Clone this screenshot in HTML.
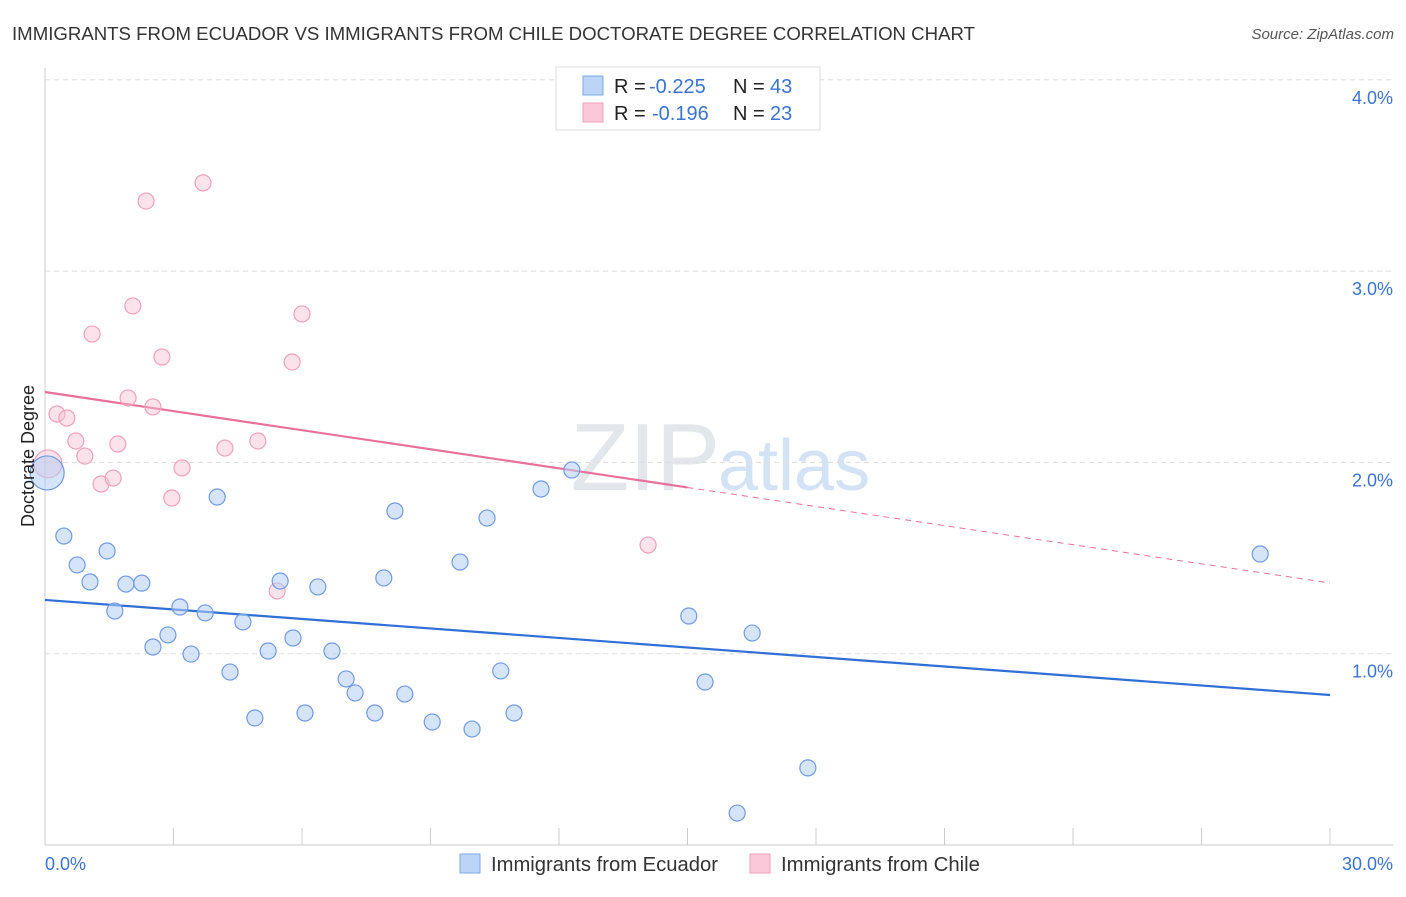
<!DOCTYPE html>
<html><head><meta charset="utf-8"><style>
body{margin:0;background:#fff;font-family:"Liberation Sans",sans-serif;}
svg text{font-family:"Liberation Sans",sans-serif;}
</style></head><body>
<svg id="chart" width="1406" height="892" viewBox="0 0 1406 892" xmlns="http://www.w3.org/2000/svg">
<text x="12" y="40" font-size="18" fill="#333" textLength="963" lengthAdjust="spacingAndGlyphs">IMMIGRANTS FROM ECUADOR VS IMMIGRANTS FROM CHILE DOCTORATE DEGREE CORRELATION CHART</text>
<text x="1394" y="39" font-size="15" fill="#555" font-style="italic" text-anchor="end">Source: ZipAtlas.com</text>
<text x="720" y="490" font-size="96" fill="#e3e6ea" font-family="Liberation Serif,serif" text-anchor="end">ZIP</text>
<text x="718" y="490" font-size="72" fill="#d3e2f4">atlas</text>
<g id="grid"></g>
<g id="axes"></g>
<g id="trend"></g>
<g id="points"></g>
<text transform="translate(34,456) rotate(-90)" font-size="18" fill="#222" text-anchor="middle">Doctorate Degree</text>
<text x="45" y="870" font-size="18" fill="#3b73d1">0.0%</text>
<text x="1393" y="870" font-size="18" fill="#3b73d1" text-anchor="end">30.0%</text>
<g>
<rect x="556" y="67" width="264" height="63" fill="#fff" stroke="#ddd"/>
<rect x="583" y="76" width="20" height="19" fill="#bcd4f5" stroke="#7fa8e4"/>
<rect x="583" y="103" width="20" height="19" fill="#fac8d8" stroke="#eea1bb"/>
<text x="614" y="93" font-size="20" fill="#222">R = <tspan x="649" fill="#3b73d1">-0.225</tspan><tspan x="733">N = </tspan><tspan x="770" fill="#3b73d1">43</tspan></text>
<text x="614" y="120" font-size="20" fill="#222">R = <tspan x="652" fill="#3b73d1">-0.196</tspan><tspan x="733">N = </tspan><tspan x="770" fill="#3b73d1">23</tspan></text>
</g>
<g>
<rect x="460" y="854" width="20" height="19" fill="#bcd4f5" stroke="#7fa8e4"/>
<text x="491" y="871" font-size="20" fill="#333" textLength="227" lengthAdjust="spacingAndGlyphs">Immigrants from Ecuador</text>
<rect x="750" y="854" width="20" height="19" fill="#fac8d8" stroke="#eea1bb"/>
<text x="781" y="871" font-size="20" fill="#333" textLength="199" lengthAdjust="spacingAndGlyphs">Immigrants from Chile</text>
</g>
</svg>
<script>
const yTicks=[1,2,3,4];
const yTickLabels=["1.0%","2.0%","3.0%","4.0%"];
const xTicks=[0,3,6,9,12,15,18,21,24,27,30];
const ecuadorX=[0.05,0.44,0.75,1.05,1.45,1.63,1.89,2.26,2.52,2.87,3.15,3.41,3.74,4.02,4.32,4.62,4.90,5.21,5.49,5.79,6.07,6.37,6.70,7.03,7.24,7.70,7.91,8.17,8.40,9.04,9.69,9.97,10.32,10.64,10.95,11.58,12.30,15.03,15.41,16.16,16.51,17.81,28.37];
const ecuadorY=[1.945,1.615,1.464,1.375,1.537,1.223,1.364,1.369,1.035,1.098,1.244,0.998,1.213,1.819,0.904,1.166,0.664,1.014,1.380,1.082,0.690,1.349,1.014,0.868,0.795,0.690,1.396,1.746,0.789,0.643,1.479,0.606,1.709,0.910,0.690,1.861,1.960,1.197,0.852,0.167,1.108,0.403,1.521];
const chileX=[0.07,0.28,0.51,0.72,0.93,1.10,1.31,1.59,1.70,1.94,2.05,2.36,2.52,2.73,2.96,3.20,3.69,4.20,4.97,5.42,5.77,6.00,14.08];
const chileY=[1.992,2.253,2.232,2.112,2.033,2.671,1.887,1.918,2.096,2.337,2.818,3.366,2.290,2.551,1.814,1.971,3.461,2.075,2.112,1.328,2.525,2.776,1.568];
const ecuadorTrend=[1.281,0.784];
const chileTrend=[2.368,1.370];
const chileSolidEnd=15.0;
const X0=45,X1=1330,Y0=845,PPY=191.3;
const sx=v=>X0+v/30*(X1-X0);
const sy=v=>Y0-v*PPY;
const NS="http://www.w3.org/2000/svg";
function mk(tag,attrs,parent){const e=document.createElementNS(NS,tag);for(const k in attrs)e.setAttribute(k,attrs[k]);parent.appendChild(e);return e;}
const grid=document.getElementById('grid'),axes=document.getElementById('axes'),trend=document.getElementById('trend'),pts=document.getElementById('points');
yTicks.forEach((t,i)=>{
 const l=mk('line',{x1:X0,x2:1393,y1:sy(t),y2:sy(t),stroke:'#ddd','stroke-dasharray':'5,4'},grid);
 
 
 const tx=mk('text',{x:1393,y:sy(t)+24,'font-size':18,fill:'#3b73d1','text-anchor':'end'},grid);
 tx.textContent=yTickLabels[i];
 
 
});
const ax=mk('line',{x1:X0,x2:X0,y1:68,y2:Y0,stroke:'#ccc'},axes);


const bx=mk('line',{x1:X0,x2:1393,y1:Y0,y2:Y0,stroke:'#ccc'},axes);


xTicks.forEach(t=>{
 const l=mk('line',{x1:sx(t),x2:sx(t),y1:828,y2:Y0,stroke:'#ccc'},axes);
 
 
});
const tl=(a,b,x)=>a+(b-a)*x/30;
const eb=mk('line',{x1:sx(0),y1:sy(ecuadorTrend[0]),x2:sx(30),y2:sy(ecuadorTrend[1]),stroke:'#2f6fd6','stroke-width':2.2},trend);


const cs=mk('line',{x1:sx(0),y1:sy(chileTrend[0]),x2:sx(chileSolidEnd),y2:sy(tl(chileTrend[0],chileTrend[1],chileSolidEnd)),stroke:'#e8709a','stroke-width':2.2},trend);


const cd=mk('line',{x1:sx(chileSolidEnd),y1:sy(tl(chileTrend[0],chileTrend[1],chileSolidEnd)),x2:sx(30),y2:sy(chileTrend[1]),stroke:'#e8709a','stroke-width':1,'stroke-dasharray':'6,5'},trend);


chileX.forEach((x,i)=>{
 const c=mk('circle',{cx:sx(x),cy:sy(chileY[i]),r:i===0?14:8,fill:'rgba(248,190,210,0.45)',stroke:'#eea1bb','stroke-width':1.2},pts);
 
 
});
ecuadorX.forEach((x,i)=>{
 const c=mk('circle',{cx:sx(x),cy:sy(ecuadorY[i]),r:i===0?17:8,fill:'rgba(180,205,245,0.55)',stroke:'#6f9be0','stroke-width':1.2},pts);
 
 
});
</script>
</body></html>
